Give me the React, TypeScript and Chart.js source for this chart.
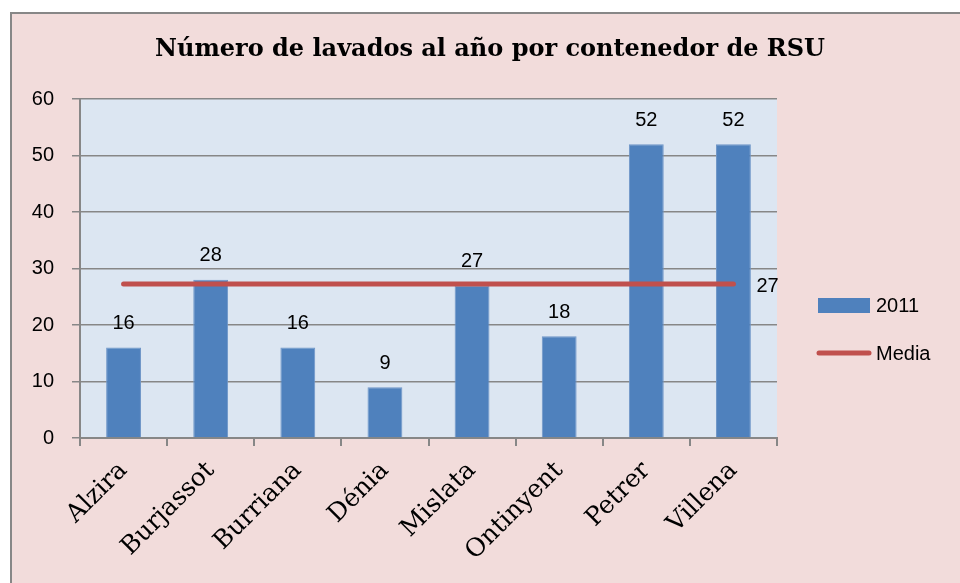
import React, { useEffect, useRef } from "react";
import { Chart, registerables } from "chart.js";

Chart.register(...registerables);

const categories = ["Alzira", "Burjassot", "Burriana", "Dénia", "Mislata", "Ontinyent", "Petrer", "Villena"];
const values2011 = [16, 28, 16, 9, 27, 18, 52, 52];
const mediaValues = [27.25, 27.25, 27.25, 27.25, 27.25, 27.25, 27.25, 27.25];
const mediaLabel = "27";
const yTicks = [0, 10, 20, 30, 40, 50, 60];
const titleText = "Número de lavados al año por contenedor de RSU";
const seriesNames = ["2011", "Media"];

const PINK = "#f2dcdb";
const PLOT = "#dce6f2";
const GRAY = "#878787";
const BLUE = "#4f81bd";
const RED = "#c0504d";
const SANS = "'Liberation Sans', Arial, sans-serif";
const SERIF = "'DejaVu Serif', serif";

const decorPlugin = {
  id: "decor",
  beforeDraw(chart: any) {
    const { ctx, width, height, chartArea } = chart;
    ctx.save();
    ctx.fillStyle = "#ffffff";
    ctx.fillRect(0, 0, width, height);
    ctx.fillStyle = PINK;
    ctx.fillRect(11, 13, width - 11, height - 13);
    ctx.strokeStyle = GRAY;
    ctx.lineWidth = 2;
    ctx.beginPath();
    ctx.moveTo(11, height);
    ctx.lineTo(11, 13);
    ctx.lineTo(width, 13);
    ctx.stroke();
    ctx.fillStyle = PLOT;
    ctx.fillRect(chartArea.left, chartArea.top, chartArea.right - chartArea.left, chartArea.bottom - chartArea.top);
    // title
    ctx.fillStyle = "#000";
    ctx.font = `bold 24px ${SERIF}`;
    ctx.textAlign = "center";
    ctx.textBaseline = "middle";
    ctx.fillText(titleText, 490, 50);
    ctx.restore();
  },
  afterDatasetsDraw(chart: any) {
    const { ctx } = chart;
    ctx.save();
    ctx.fillStyle = "#000";
    ctx.font = `20px ${SANS}`;
    ctx.textAlign = "center";
    ctx.textBaseline = "middle";
    const barMeta = chart.getDatasetMeta(0);
    barMeta.data.forEach((el: any, i: number) => {
      ctx.fillText(String(values2011[i]), el.x, el.y - 24);
    });
    const lineMeta = chart.getDatasetMeta(1);
    const last = lineMeta.data[lineMeta.data.length - 1];
    ctx.textAlign = "left";
    ctx.fillText(mediaLabel, last.x + 23, last.y + 2);

    // legend
    ctx.fillStyle = BLUE;
    ctx.fillRect(818, 298, 52, 15);
    ctx.strokeStyle = RED;
    ctx.lineWidth = 5;
    ctx.lineCap = "round";
    ctx.beginPath();
    ctx.moveTo(819, 353);
    ctx.lineTo(869, 353);
    ctx.stroke();
    ctx.fillStyle = "#000";
    ctx.textAlign = "left";
    ctx.fillText(seriesNames[0], 876, 306);
    ctx.fillText(seriesNames[1], 876, 354);
    ctx.restore();
  },
};

export default function App() {
  const ref = useRef<HTMLCanvasElement>(null);
  useEffect(() => {
    document.body.style.margin = "0";
    const chart = new Chart(ref.current!, {
      type: "bar",
      data: {
        labels: categories,
        datasets: [
          {
            type: "bar",
            label: seriesNames[0],
            data: values2011,
            backgroundColor: BLUE,
            borderColor: "#6f96c8",
            borderWidth: 1,
            categoryPercentage: 1,
            barPercentage: 0.4,
            order: 2,
          },
          {
            type: "line",
            label: seriesNames[1],
            data: mediaValues,
            borderColor: RED,
            borderWidth: 5,
            borderCapStyle: "round",
            pointRadius: 0,
            fill: false,
            order: 1,
          },
        ] as any,
      },
      options: {
        animation: false,
        responsive: false,
        layout: { padding: { top: 99, right: 183, left: 10, bottom: 0 } },
        plugins: { legend: { display: false }, title: { display: false }, tooltip: { enabled: false } },
        scales: {
          x: {
            offset: true,
            grid: { offset: true, drawOnChartArea: false, drawTicks: true, tickLength: 8, color: GRAY, lineWidth: 2 },
            border: { color: GRAY, width: 2 },
            ticks: {
              minRotation: 45,
              maxRotation: 45,
              autoSkip: false,
              padding: 10,
              color: "#000",
              font: { family: SERIF, size: 25 },
            },
            afterFit(scale: any) {
              scale.height = 145;
            },
          },
          y: {
            min: 0,
            max: 60,
            afterBuildTicks(scale: any) {
              scale.ticks = yTicks.map((v) => ({ value: v }));
            },
            grid: { color: GRAY, lineWidth: 1.5, tickLength: 8 },
            border: { color: GRAY, width: 2 },
            ticks: {
              padding: 18,
              color: "#000",
              font: { family: SANS, size: 20 },
            },
            afterFit(scale: any) {
              scale.width = 70;
            },
          },
        },
      },
      plugins: [decorPlugin],
    });
    return () => chart.destroy();
  }, []);
  return (
    <div style={{ width: 960, height: 583 }}>
      <canvas ref={ref} width={960} height={583} style={{ display: "block" }} />
    </div>
  );
}
